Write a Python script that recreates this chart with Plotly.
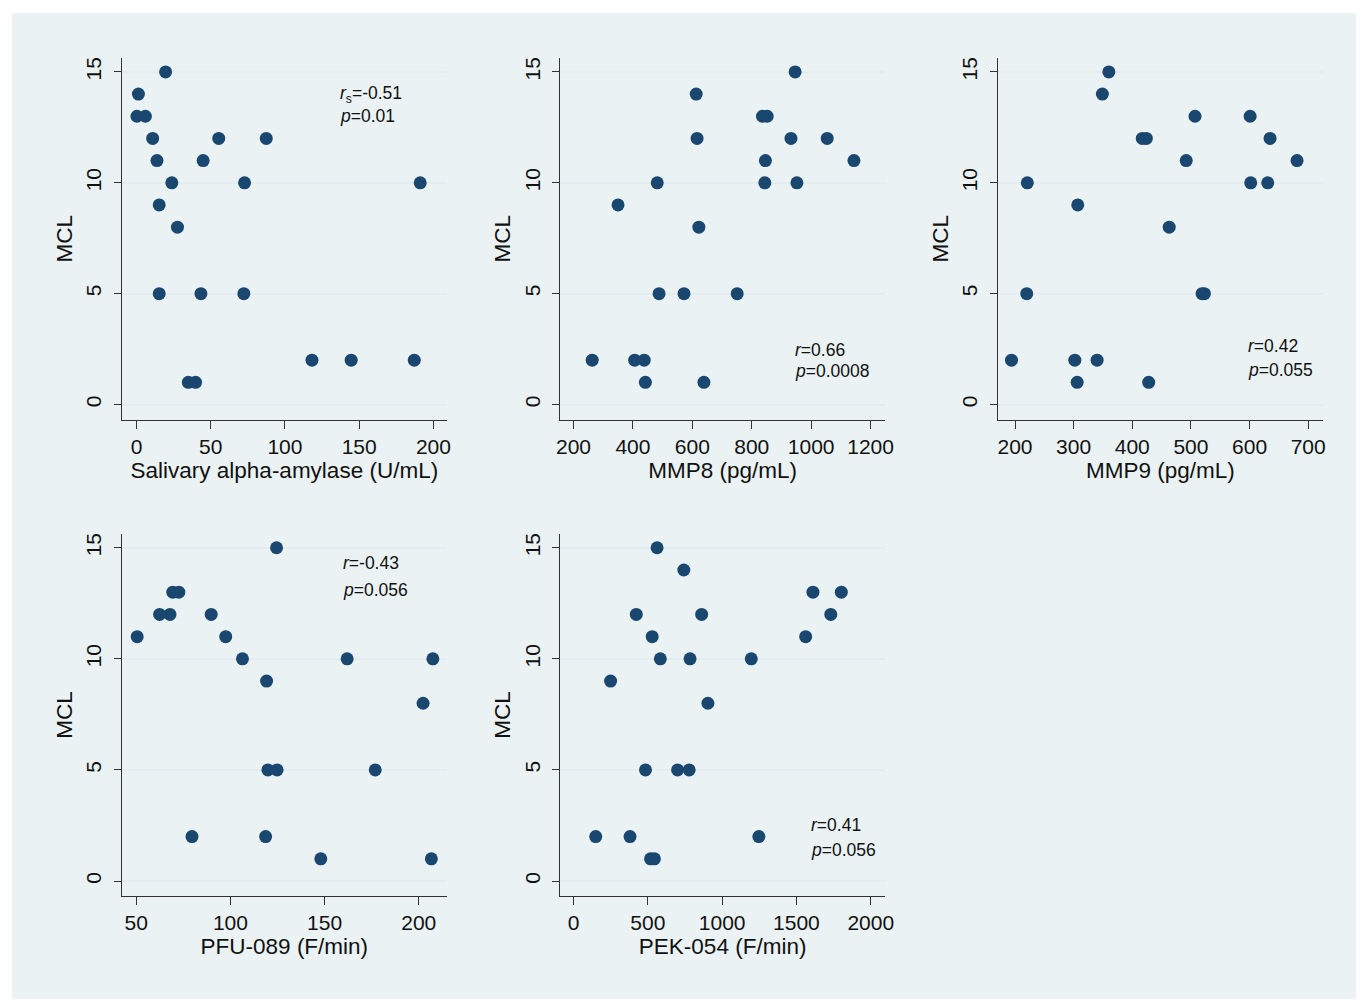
import plotly.graph_objects as go

# ---------------- data ----------------
mcl_a = [15, 14, 13, 13, 12, 12, 12, 11, 11, 10, 10, 10, 9, 8, 5, 5, 5, 2, 2, 2, 1, 1]
amylase = [19.6, 1.3, 0.3, 6.0, 10.9, 55.4, 87.4, 13.8, 44.9, 23.8, 72.8, 191.1,
           15.3, 27.6, 15.3, 43.4, 72.3, 118.2, 144.6, 187.1, 34.9, 39.8]

mcl_b = [15, 14, 13, 13, 12, 12, 12, 11, 11, 10, 10, 10, 9, 8, 5, 5, 5, 2, 2, 2, 1, 1]
mmp8 = [946, 613, 836, 852, 616, 932, 1054, 846, 1144, 482, 844, 952,
        350, 622, 488, 572, 751, 263, 406, 438, 442, 639]

mcl_c = [15, 14, 13, 13, 12, 12, 12, 11, 11, 10, 10, 10, 9, 8, 5, 5, 5, 2, 2, 2, 1, 1]
mmp9 = [360, 349, 507, 601, 417, 424, 635, 492, 681, 221, 602, 631,
        307, 463, 220, 519, 523, 194, 302, 340, 306, 428]

mcl_d = [15, 13, 13, 12, 12, 12, 11, 11, 10, 10, 10, 9, 8, 5, 5, 5, 2, 2, 1, 1]
pfu089 = [124.5, 69.4, 72.6, 62.4, 67.9, 89.8, 50.5, 97.5, 106.4, 162.0, 207.5,
          119.2, 202.3, 119.9, 124.8, 176.9, 79.6, 118.7, 148.0, 206.7]

mcl_e = [15, 14, 13, 13, 12, 12, 12, 11, 11, 10, 10, 10, 9, 8, 5, 5, 5, 2, 2, 2, 1, 1]
pek054 = [562, 742, 1611, 1802, 422, 862, 1731, 529, 1562, 584, 784, 1196,
          249, 904, 484, 700, 778, 149, 380, 1247, 518, 544]

x_titles = ["Salivary alpha-amylase (U/mL)", "MMP8 (pg/mL)", "MMP9 (pg/mL)",
            "PFU-089 (F/min)", "PEK-054 (F/min)"]
y_title = "MCL"
stat_r = ["<i>r</i><sub>s</sub>=-0.51", "<i>r</i>=0.66", "<i>r</i>=0.42",
          "<i>r</i>=-0.43", "<i>r</i>=0.41"]
stat_p = ["<i>p</i>=0.01", "<i>p</i>=0.0008", "<i>p</i>=0.055",
          "<i>p</i>=0.056", "<i>p</i>=0.056"]
x_ticks = [[0, 50, 100, 150, 200], [200, 400, 600, 800, 1000, 1200],
           [200, 300, 400, 500, 600, 700], [50, 100, 150, 200],
           [0, 500, 1000, 1500, 2000]]
y_ticks = [0, 5, 10, 15]

# ---------------- layout geometry ----------------
# the page body adds an 8px white margin, which forms the white border
W, H = 1357, 993
xs = [amylase, mmp8, mmp9, pfu089, pek054]
ys = [mcl_a, mcl_b, mcl_c, mcl_d, mcl_e]
x_ranges = [[-9.8, 209], [156, 1248], [170.6, 725.3], [42.4, 214.9], [-88.7, 2095]]
y_range = [-0.68, 15.63]
col_px = [(111, 439), (553.7, 881.3), (995.3, 1323.7)]
row_px = [(49, 411), (525.3, 888)]
ann_pos = [  # (x, y_r, y_p) in data units
    (135.7, 13.96, 13.0),
    (940, 2.46, 1.5),
    (594, 2.64, 1.56),
    (158.8, 14.3, 13.1),
    (1587, 2.52, 1.39),
]

NAVY = "#1a476f"
BG = "#eaf2f3"
GRID = "#e3edf0"
FONT = "Liberation Sans, Arial, sans-serif"

fig = go.Figure()
layout = dict(
    width=W, height=H, margin=dict(l=0, r=0, t=0, b=0),
    paper_bgcolor="white", plot_bgcolor="white", showlegend=False,
    font=dict(family=FONT, color="#111111"),
    shapes=[dict(type="rect", xref="paper", yref="paper",
                 x0=0, x1=1, y0=2 / H, y1=1 - 4 / H,
                 fillcolor=BG, line_width=0, layer="below")],
    annotations=[],
)

for i in range(5):
    r, c = divmod(i, 3)
    n = "" if i == 0 else str(i + 1)
    xa, ya = "xaxis" + n, "yaxis" + n
    x0, x1 = col_px[c]
    top, bot = row_px[r]
    fig.add_trace(go.Scatter(
        x=xs[i], y=ys[i], mode="markers", xaxis="x" + n, yaxis="y" + n,
        marker=dict(color=NAVY, size=13, line=dict(width=0)),
        hoverinfo="x+y"))
    layout[xa] = dict(
        domain=[x0 / W, x1 / W], range=x_ranges[i], anchor="y" + n,
        tickvals=x_ticks[i], ticks="outside", ticklen=8, tickwidth=1.3,
        tickcolor="#333", showline=True, linecolor="#333", linewidth=1.3,
        showgrid=False, zeroline=False,
        tickfont=dict(size=21, family=FONT, color="#111"),
        title=dict(text=x_titles[i], font=dict(size=22.5, family=FONT, color="#111"),
                   standoff=4),
    )
    layout[ya] = dict(
        domain=[1 - bot / H, 1 - top / H], range=y_range, anchor="x" + n,
        tickvals=y_ticks, ticks="outside", ticklen=7, tickwidth=1.3,
        tickcolor="#333", showline=True, linecolor="#333", linewidth=1.3,
        showgrid=True, gridcolor=GRID, gridwidth=2, zeroline=False,
        tickangle=-90, ticklabelstandoff=4,
        tickfont=dict(size=21, family=FONT, color="#111"),
        title=dict(text=y_title, font=dict(size=22.5, family=FONT, color="#111"),
                   standoff=3),
    )
    ax, yr, yp = ann_pos[i]
    for txt, yy in ((stat_r[i], yr), (stat_p[i], yp)):
        layout["annotations"].append(dict(
            x=ax, y=yy, xref="x" + n, yref="y" + n, text=txt, showarrow=False,
            xanchor="left", yanchor="middle",
            font=dict(size=17.5, family=FONT, color="#111")))

fig.update_layout(**layout)
fig.write_html("out.html")
